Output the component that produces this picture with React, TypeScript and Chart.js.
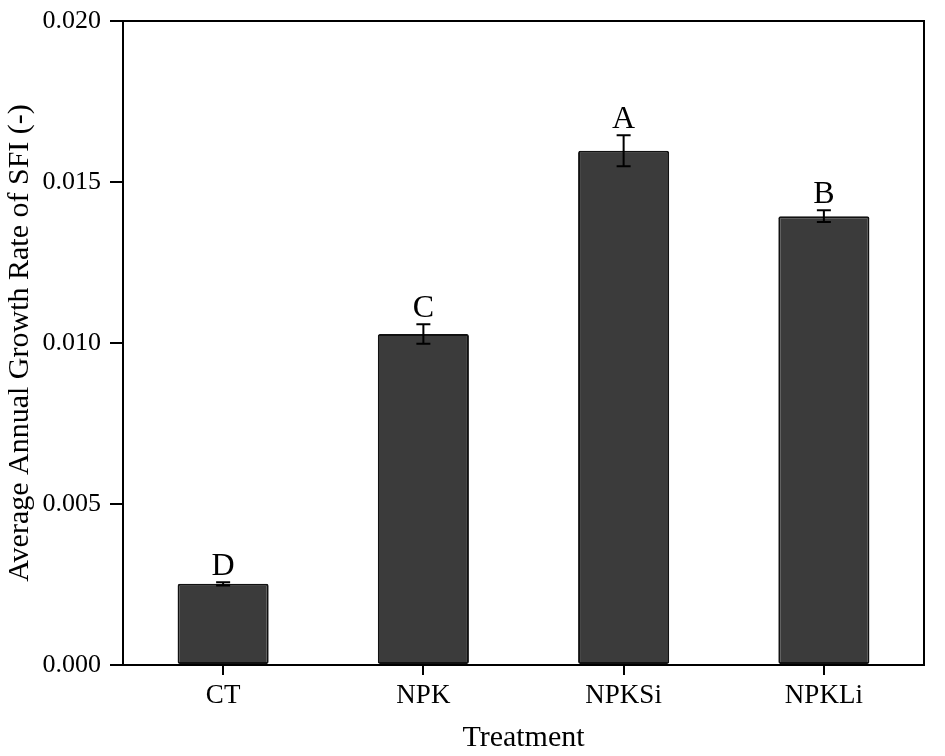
import React, { useEffect, useRef } from "react";
import { Chart, registerables } from "chart.js";

Chart.register(...registerables);

const treatments = ["CT", "NPK", "NPKSi", "NPKLi"];
const growthRates = [0.00252, 0.01028, 0.01597, 0.01394];
const errors = [0.00005, 0.0003, 0.00048, 0.00018];
const letters = ["D", "C", "A", "B"];

const FONT = "'Liberation Serif', 'Times New Roman', serif";

const extrasPlugin = {
  id: "extras",
  afterDatasetsDraw(chart: any) {
    const { ctx, chartArea, scales } = chart;
    const x = scales.x;
    const y = scales.y;
    ctx.save();
    // frame top/right
    ctx.strokeStyle = "#000";
    ctx.lineWidth = 2;
    ctx.beginPath();
    ctx.moveTo(chartArea.left, chartArea.top);
    ctx.lineTo(chartArea.right, chartArea.top);
    ctx.lineTo(chartArea.right, chartArea.bottom);
    ctx.stroke();
    // error bars and letters
    growthRates.forEach((v, i) => {
      const cx = x.getPixelForValue(i);
      const hi = y.getPixelForValue(v + errors[i]);
      const lo = y.getPixelForValue(v - errors[i]);
      ctx.strokeStyle = "#000";
      ctx.lineWidth = 2;
      ctx.beginPath();
      ctx.moveTo(cx, hi);
      ctx.lineTo(cx, lo);
      ctx.moveTo(cx - 7, hi);
      ctx.lineTo(cx + 7, hi);
      ctx.moveTo(cx - 7, lo);
      ctx.lineTo(cx + 7, lo);
      ctx.stroke();
      ctx.fillStyle = "#000";
      ctx.font = `32px ${FONT}`;
      ctx.textAlign = "center";
      ctx.textBaseline = "alphabetic";
      ctx.fillText(letters[i], cx, hi - 7);
    });
    ctx.restore();
  },
};

const App: React.FC = () => {
  const chartRef = useRef<HTMLCanvasElement | null>(null);
  const chartInstance = useRef<Chart | null>(null);

  useEffect(() => {
    document.body.style.margin = "0";
    if (chartInstance.current) {
      chartInstance.current.destroy();
    }
    const ctx = chartRef.current?.getContext("2d");
    if (ctx) {
      chartInstance.current = new Chart(ctx, {
        type: "bar",
        data: {
          labels: treatments,
          datasets: [
            {
              label: "Average Annual Growth Rate of SFI",
              data: growthRates,
              backgroundColor: "#3b3b3b",
              borderColor: "#111",
              borderWidth: 2,
              borderRadius: 2,
              borderSkipped: false,
              barPercentage: 0.455,
              categoryPercentage: 1,
            },
          ],
        },
        options: {
          responsive: false,
          animation: false,
          layout: { padding: { top: 21, right: 21, left: 0, bottom: 0 } },
          plugins: {
            legend: { display: false },
            tooltip: { enabled: false },
          },
          scales: {
            x: {
              afterFit: (scale: any) => {
                scale.height = 91;
              },
              grid: {
                offset: false,
                drawOnChartArea: false,
                drawTicks: true,
                tickLength: 10,
                color: "#000",
                lineWidth: 2,
              },
              border: { color: "#000", width: 2 },
              ticks: {
                color: "#000",
                font: { family: FONT, size: 27 },
                padding: 5,
              },
              title: {
                display: true,
                text: "Treatment",
                color: "#000",
                font: { family: FONT, size: 30 },
                padding: { top: 2, bottom: 0 },
              },
            },
            y: {
              min: 0,
              max: 0.02,
              afterFit: (scale: any) => {
                scale.width = 123;
                scale.paddingTop = 0;
                scale.paddingBottom = 0;
              },
              grid: {
                drawOnChartArea: false,
                drawTicks: true,
                tickLength: 13,
                color: "#000",
                lineWidth: 2,
              },
              border: { color: "#000", width: 2 },
              ticks: {
                stepSize: 0.005,
                color: "#000",
                font: { family: FONT, size: 26 },
                padding: 9,
                callback: (v: any) => Number(v).toFixed(3),
              },
              title: {
                display: true,
                text: "Average Annual Growth Rate of SFI (-)",
                color: "#000",
                font: { family: FONT, size: 30 },
                padding: { top: 2, bottom: 0 },
              },
            },
          },
        },
        plugins: [extrasPlugin],
      });
    }
    return () => {
      if (chartInstance.current) {
        chartInstance.current.destroy();
        chartInstance.current = null;
      }
    };
  }, []);

  return (
    <div style={{ position: "absolute", left: 0, top: 0, background: "#fff" }}>
      <canvas ref={chartRef} width={945} height={756} />
    </div>
  );
};

export default App;
